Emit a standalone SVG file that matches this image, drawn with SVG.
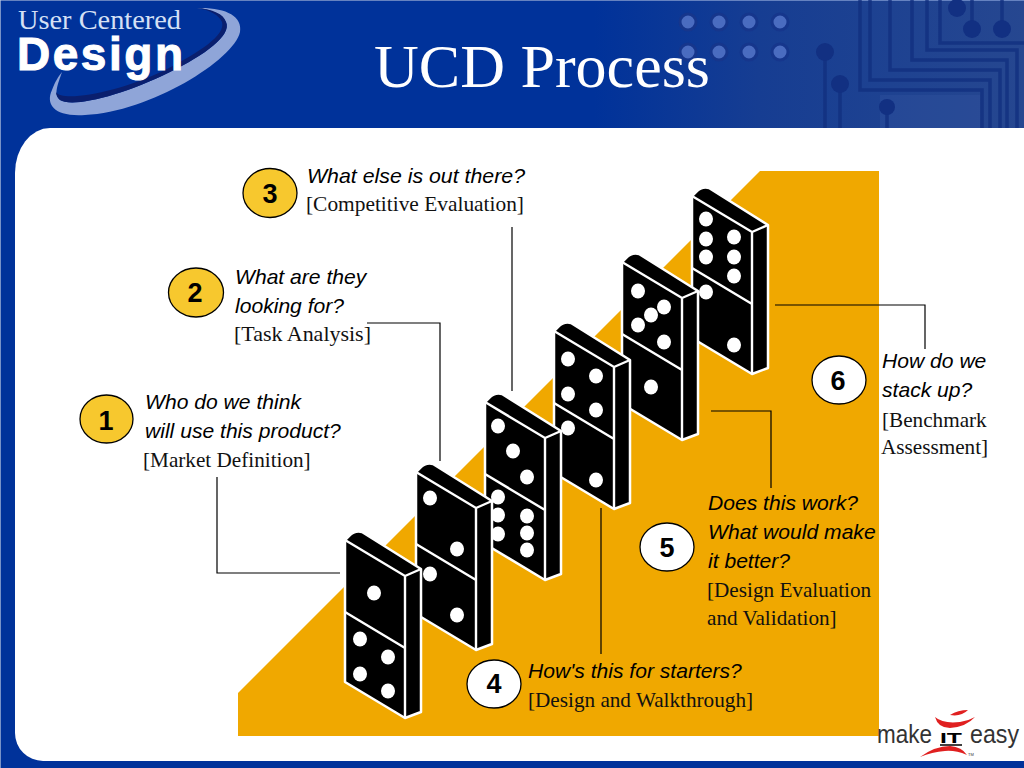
<svg xmlns="http://www.w3.org/2000/svg" width="1024" height="768" viewBox="0 0 1024 768">
<style>
.q{font-family:"Liberation Sans",Arial,sans-serif;font-style:italic;font-size:21.1px;fill:#000}
.b{font-family:"Liberation Serif","Times New Roman",serif;font-size:21.2px;fill:#111}
.n{font-family:"Liberation Sans",Arial,sans-serif;font-weight:bold;font-size:27px;fill:#000;text-anchor:middle}
.by{fill:#f7c82e;stroke:#000;stroke-width:1.3}
.bw{fill:#fff;stroke:#000;stroke-width:1.3}
.c{fill:none;stroke:#000;stroke-width:1.2}
.p{fill:#fff}
.tr{fill:none;stroke:#12307f;stroke-width:3.5;opacity:.8}
.pad{fill:#4a6cc0;stroke:#16368c;stroke-width:3}
.hole{fill:#123082}
</style>
<defs>
<linearGradient id="hd" x1="0" x2="1" y1="0" y2="0">
<stop offset="0" stop-color="#00329a"/><stop offset=".58" stop-color="#00329a"/><stop offset=".74" stop-color="#163d92"/><stop offset="1" stop-color="#264790"/>
</linearGradient>
<g id="dom">
<path d="M0 0V142L60 178L76 172V29L17-8Q10-10 4-4Z" fill="#000" stroke="#fff" stroke-width="2.5" stroke-linejoin="round"/>
<path d="M0 0L60 36L76 29M60 36V178M0 72L60 108" fill="none" stroke="#fff" stroke-width="2.4"/>
</g>
<ellipse id="pip" rx="7" ry="7.5" class="p"/>
</defs>
<rect id="background" width="1024" height="768" fill="#00329a"/>
<rect id="header" x="0" y="1" width="1024" height="127" fill="url(#hd)"/>
<path id="edge" d="M0 768V0H1024" fill="none" stroke="#c9d2e6" stroke-width="1.2"/>
<g id="circuit">
<rect x="880" y="95" width="100" height="33" fill="#3a5aa6" opacity=".25"/>
<circle class="pad" cx="688" cy="22" r="8"/><circle class="pad" cx="719" cy="22" r="8"/><circle class="pad" cx="749" cy="22" r="8"/><circle class="pad" cx="780" cy="22" r="8"/>
<circle class="pad" cx="688" cy="52" r="8"/><circle class="pad" cx="719" cy="52" r="8"/><circle class="pad" cx="749" cy="52" r="8"/><circle class="pad" cx="780" cy="52" r="8"/>
<path class="tr" d="M860 0V90H982V128M870 0V80H990V128M890 0V70H1000V128M912 0V60H1007V128M927 0V50H1017V128M940 0V43H1024"/>
<path class="tr" d="M957 0V8M972 0V29M1002 0V29M825 52V128M840 84V128M887 107V128" stroke-width="2.5"/>
<circle class="hole" cx="957" cy="8" r="9"/><circle class="hole" cx="972" cy="29" r="9"/><circle class="hole" cx="1002" cy="29" r="9"/><circle class="hole" cx="825" cy="52" r="9"/><circle class="hole" cx="840" cy="84" r="9"/><circle class="hole" cx="887" cy="107" r="8"/>
</g>
<path id="panel" d="M1024 128H50A35 45 0 0 0 15 173V733A28 28 0 0 0 43 761H1024Z" fill="#fff"/>
<g id="logo-ucd">
<path d="M197 8C225 7 243 16 240 32C234 60 150 112 85 115C55 117 45 105 52 90C55 82 58 77 62 72C58 84 53 95 60 100C72 108 122 96 170 72C205 55 232 35 226 22C222 14 210 9 197 8Z" fill="#8fa5d8"/>
<path d="M197 8C212 9 224 14 226 22C232 35 205 55 170 72C122 96 72 108 60 100C58 98 56 95 56 92C62 103 120 92 165 70C200 52 226 35 222 22C219 15 210 10 197 8Z" fill="#0a1f6e"/>
<text x="18" y="29" font-family="Liberation Serif,serif" font-size="28" fill="#d5e0f5" textLength="163" lengthAdjust="spacingAndGlyphs">User Centered</text>
<text x="17" y="70" font-family="Liberation Sans,sans-serif" font-weight="bold" font-size="46" fill="#fff" stroke="#fff" stroke-width="1" textLength="166">Design</text>
</g>
<text id="title" x="542" y="87" text-anchor="middle" font-family="Liberation Serif,serif" font-size="62" fill="#fff">UCD Process</text>
<polygon id="stair" points="238,693 760,171 879,171 879,736 238,736" fill="#f0a800"/>
<g id="connectors">
<path class="c" d="M217 477V573H340"/>
<path class="c" d="M367 323H440V461"/>
<path class="c" d="M512 227V391"/>
<path class="c" d="M601 508V654"/>
<path class="c" d="M711 411H771V488"/>
<path class="c" d="M775 305H925V349"/>
</g>
<g id="domino-6" transform="translate(692 196)"><use href="#dom"/>
<use href="#pip" x="14" y="23"/><use href="#pip" x="14" y="43"/><use href="#pip" x="14" y="61"/><use href="#pip" x="42" y="41"/><use href="#pip" x="42" y="61"/><use href="#pip" x="42" y="80"/><use href="#pip" x="14" y="96"/><use href="#pip" x="42" y="149"/></g>
<g id="domino-5" transform="translate(622 262)"><use href="#dom"/>
<use href="#pip" x="16" y="29"/><use href="#pip" x="42" y="45"/><use href="#pip" x="29" y="53"/><use href="#pip" x="16" y="63"/><use href="#pip" x="42" y="80"/><use href="#pip" x="29" y="125"/></g>
<g id="domino-4" transform="translate(554 331)"><use href="#dom"/>
<use href="#pip" x="14" y="28"/><use href="#pip" x="42" y="45"/><use href="#pip" x="14" y="63"/><use href="#pip" x="42" y="79"/><use href="#pip" x="14" y="97"/><use href="#pip" x="42" y="149"/></g>
<g id="domino-3" transform="translate(485 402)"><use href="#dom"/>
<use href="#pip" x="13" y="24"/><use href="#pip" x="28" y="49"/><use href="#pip" x="42" y="75"/><use href="#pip" x="13" y="95"/><use href="#pip" x="13" y="113"/><use href="#pip" x="13" y="132"/><use href="#pip" x="42" y="114"/><use href="#pip" x="42" y="131"/><use href="#pip" x="42" y="148"/></g>
<g id="domino-2" transform="translate(416 472)"><use href="#dom"/>
<use href="#pip" x="14" y="26"/><use href="#pip" x="41" y="77"/><use href="#pip" x="14" y="102"/><use href="#pip" x="41" y="143"/></g>
<g id="domino-1" transform="translate(345 540)"><use href="#dom"/>
<use href="#pip" x="29" y="53"/><use href="#pip" x="15" y="99"/><use href="#pip" x="43" y="117"/><use href="#pip" x="15" y="134"/><use href="#pip" x="43" y="151"/></g>
<g id="node-1"><ellipse class="by" cx="106.500" cy="419" rx="26.500" ry="24"/><text class="n" x="106" y="430">1</text>
<text class="q" x="145" y="409">Who do we think</text><text class="q" x="145" y="438">will use this product?</text><text class="b" x="143" y="467">[Market Definition]</text></g>
<g id="node-2"><ellipse class="by" cx="196" cy="292.500" rx="27.500" ry="24.500"/><text class="n" x="195" y="302">2</text>
<text class="q" x="235" y="284">What are they</text><text class="q" x="235" y="313">looking for?</text><text class="b" x="234" y="341" textLength="137" lengthAdjust="spacingAndGlyphs">[Task Analysis]</text></g>
<g id="node-3"><ellipse class="by" cx="270" cy="193" rx="27" ry="24.500"/><text class="n" x="270" y="203">3</text>
<text class="q" x="307" y="183" textLength="218" lengthAdjust="spacingAndGlyphs">What else is out there?</text><text class="b" x="306" y="211" textLength="218" lengthAdjust="spacingAndGlyphs">[Competitive Evaluation]</text></g>
<g id="node-4"><ellipse class="bw" cx="494" cy="684" rx="27" ry="24"/><text class="n" x="494" y="693">4</text>
<text class="q" x="528" y="678">How's this for starters?</text><text class="b" x="528" y="707">[Design and Walkthrough]</text></g>
<g id="node-5"><ellipse class="bw" cx="667" cy="547" rx="27" ry="24"/><text class="n" x="667" y="557">5</text>
<text class="q" x="708" y="510">Does this work?</text><text class="q" x="708" y="539">What would make</text><text class="q" x="708" y="568">it better?</text><text class="b" x="707" y="597">[Design Evaluation</text><text class="b" x="707" y="625">and Validation]</text></g>
<g id="node-6"><ellipse class="bw" cx="839" cy="380" rx="27" ry="24"/><text class="n" x="838" y="390">6</text>
<text class="q" x="882" y="368">How do we</text><text class="q" x="882" y="397">stack up?</text><text class="b" x="882" y="427">[Benchmark</text><text class="b" x="881" y="454">Assessment]</text></g>
<g id="logo-mie">
<text x="877" y="743" font-family="Liberation Sans,sans-serif" font-size="25" fill="#333" textLength="55" lengthAdjust="spacingAndGlyphs">make</text>
<text x="940" y="743" font-family="Liberation Sans,sans-serif" font-weight="bold" font-size="14" fill="#000" textLength="22" lengthAdjust="spacingAndGlyphs">IT</text>
<path d="M940 745H962" stroke="#000" stroke-width="1.5"/>
<text x="970" y="743" font-family="Liberation Sans,sans-serif" font-size="25" fill="#333" textLength="49" lengthAdjust="spacingAndGlyphs">easy</text>
<path d="M935 717Q943 724 960 722Q968 721 975 717Q966 727 950 728Q938 728 935 717ZM950 715Q958 710 968 710Q961 717 950 715ZM920 757Q935 746 950 746Q962 747 967 755Q955 750 945 751Q932 752 920 757Z" fill="#e02020"/>
<text x="968" y="756" font-family="Liberation Sans,sans-serif" font-size="4" fill="#333">TM</text>
</g>
</svg>
